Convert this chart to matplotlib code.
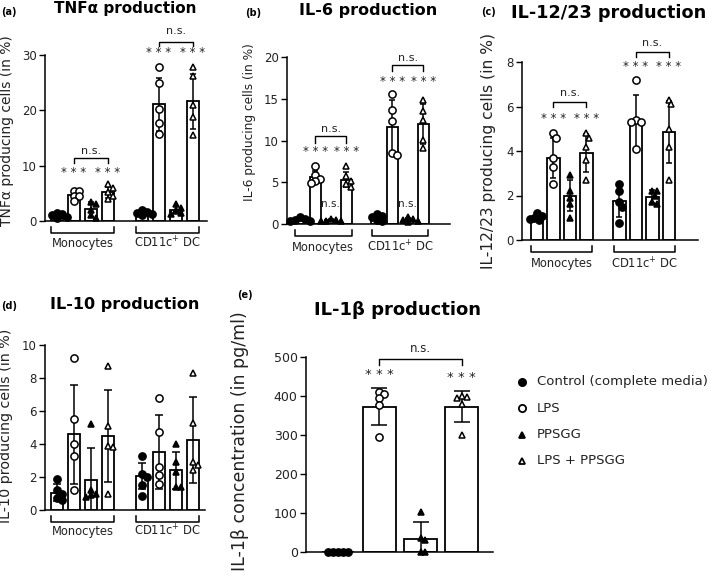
import numpy as np
import matplotlib
matplotlib.use("Agg")
import matplotlib.pyplot as plt
from matplotlib.lines import Line2D
from matplotlib.transforms import blended_transform_factory

# ── Data ─────────────────────────────────────────────────────────────────────
treatments = ["Control (complete media)", "LPS", "PPSGG", "LPS + PPSGG"]
cell_groups = ["Monocytes", "CD11c$^{+}$ DC"]

# order: Mono ctrl, Mono LPS, Mono PPSGG, Mono LPS+PPSGG, DC ctrl, DC LPS, DC PPSGG, DC LPS+PPSGG
tnf_points = [[1.5, 1.2, 1.0, 0.8, 0.6], [5.5, 5.4, 4.6, 4.5, 3.7],
              [3.4, 3.1, 2.0, 1.0, 0.6], [6.7, 6.0, 5.2, 4.5, 4.0],
              [1.9, 1.7, 1.4, 1.2, 1.0], [27.8, 25.0, 20.2, 17.8, 15.8],
              [3.0, 2.4, 1.9, 1.5, 1.2], [27.8, 26.2, 21.0, 18.8, 15.6]]
tnf_mean = [1.0, 4.7, 2.1, 5.2, 1.4, 21.1, 2.0, 21.6]
tnf_sd = [0.35, 0.7, 1.3, 1.0, 0.4, 4.8, 0.7, 4.9]

il6_points = [[0.8, 0.6, 0.5, 0.4, 0.3], [7.0, 5.9, 5.4, 5.1, 4.9],
              [0.6, 0.5, 0.4, 0.35, 0.3], [6.9, 5.7, 5.2, 4.8, 4.4],
              [1.2, 1.0, 0.8, 0.5, 0.3], [15.6, 13.6, 12.3, 8.5, 8.3],
              [0.8, 0.6, 0.5, 0.4, 0.2], [14.8, 13.5, 12.4, 10.1, 9.1]]
il6_mean = [0.5, 5.6, 0.45, 5.3, 0.75, 11.6, 0.5, 12.0]
il6_sd = [0.2, 0.8, 0.1, 0.9, 0.35, 3.2, 0.2, 2.4]

il12_points = [[1.2, 1.1, 1.0, 0.95, 0.9], [4.8, 4.6, 3.7, 3.3, 2.5],
               [2.9, 2.2, 1.9, 1.6, 1.0], [4.8, 4.6, 4.2, 3.6, 2.7],
               [2.5, 2.2, 1.7, 1.5, 0.75], [7.2, 5.4, 5.3, 5.3, 4.1],
               [2.2, 2.2, 2.0, 1.7, 1.6], [6.3, 6.1, 5.0, 4.2, 2.7]]
il12_mean = [1.0, 3.7, 2.0, 3.9, 1.75, 5.3, 1.95, 4.85]
il12_sd = [0.1, 0.9, 0.7, 0.85, 0.7, 1.2, 0.3, 1.4]

il10_points = [[1.85, 1.2, 1.0, 0.7, 0.6], [9.2, 5.5, 4.0, 3.3, 1.2],
               [5.2, 1.2, 1.0, 0.9, 0.8], [8.7, 5.1, 3.9, 3.8, 1.0],
               [3.3, 2.2, 2.0, 1.5, 0.85], [6.8, 4.7, 2.6, 2.1, 1.6],
               [4.0, 2.9, 2.3, 1.4, 1.4], [8.3, 5.3, 2.9, 2.7, 2.4]]
il10_mean = [1.05, 4.6, 1.8, 4.5, 2.05, 3.5, 2.4, 4.25]
il10_sd = [0.5, 3.0, 1.95, 2.8, 0.8, 2.25, 1.1, 2.6]

il1b_points = [[0, 0, 0, 0, 0], [410, 405, 395, 378, 295],
               [103, 35, 30, 0, 0], [400, 398, 396, 380, 300]]
il1b_mean = [0, 373, 33, 373]
il1b_sd = [0, 48, 43, 40]

STAR = "* * *"
NS = "n.s."

# ── Figure setup ─────────────────────────────────────────────────────────────
plt.rcParams["font.family"] = "DejaVu Sans"
W, H = 709, 582
fig = plt.figure(figsize=(W / 100, H / 100), dpi=100)

MARKERS = [("o", "black"), ("o", "white"), ("^", "black"), ("^", "white")]
MSIZE = {"o": 5.2, "^": 5.0}
TXT = "#222222"


def add_axes_px(l, t, r, b):
    return fig.add_axes([l / W, 1 - b / H, (r - l) / W, (b - t) / H])


def ftext(x, y, s, **kw):
    return fig.text(x / W, 1 - y / H, s, **kw)


def swarm(ax, x0, vals, size_px=7.0):
    # spread points sideways only where they pile up
    x_lo, x_hi = ax.get_xlim()
    y_lo, y_hi = ax.get_ylim()
    sx = ax.bbox.width / (x_hi - x_lo)
    sy = ax.bbox.height / (y_hi - y_lo)
    placed, xs = [], np.zeros(len(vals))
    for i in np.argsort(vals)[::-1]:
        ypx = vals[i] * sy
        for k in [0, 1, -1, 2, -2, 3, -3, 4, -4]:
            xpx = k * size_px * 0.35
            if all(np.hypot(xpx - px, ypx - py) >= size_px * 0.7 for px, py in placed):
                break
        placed.append((xpx, ypx))
        xs[i] = x0 + xpx / sx
    return xs


def style_axes(ax, xlim, ylim, yticks, tick_fs):
    ax.set_xlim(*xlim)
    ax.set_ylim(*ylim)
    ax.set_yticks(yticks)
    ax.set_xticks([])
    for side in ["top", "right"]:
        ax.spines[side].set_visible(False)
    for side in ["left", "bottom"]:
        ax.spines[side].set_linewidth(1.1)
    ax.tick_params(axis="y", length=4, width=1.0, labelsize=tick_fs,
                   colors="black", labelcolor=TXT, pad=2)
    ax.patch.set_alpha(0)


def draw_bars(ax, positions, points, means, sds, width, capsize):
    for i, x in enumerate(positions):
        mk, fc = MARKERS[i % 4]
        ax.bar(x, means[i], width=width, color="white", edgecolor="black",
               linewidth=1.3, zorder=2)
        ax.errorbar(x, means[i], yerr=sds[i], color="black", elinewidth=1.1,
                    capsize=capsize, capthick=1.1, zorder=3, fmt="none")
        vals = np.array(points[i], dtype=float)
        xs = swarm(ax, x, vals)
        ax.plot(xs, vals, linestyle="none", marker=mk, markersize=MSIZE[mk],
                markerfacecolor=fc, markeredgecolor="black",
                markeredgewidth=1.1, zorder=4, clip_on=False)


def group_brackets(ax, spans, labels, fs, d_end=6, d_line=12, d_lab=22):
    h = ax.bbox.height
    tr = blended_transform_factory(ax.transData, ax.transAxes)
    for (x0, x1), lab in zip(spans, labels):
        ax.add_line(Line2D([x0, x0, x1, x1],
                           [-d_end / h, -d_line / h, -d_line / h, -d_end / h],
                           transform=tr, color="black", lw=1.1, clip_on=False))
        ax.text((x0 + x1) / 2, -d_lab / h, lab, transform=tr, ha="center",
                va="center", fontsize=fs, color=TXT, clip_on=False)


def sig_bracket(ax, x0, x1, y_tick, y_line, y_text, fs=8):
    ax.plot([x0, x0, x1, x1], [y_tick, y_line, y_line, y_tick], color="black",
            lw=1.0, clip_on=False)
    ax.text((x0 + x1) / 2, y_text, NS, ha="center", va="center", fontsize=fs,
            color=TXT, clip_on=False)


def stars(ax, xs, y, fs=8.5):
    for x in xs:
        ax.text(x, y, STAR, ha="center", va="center", fontsize=fs,
                color=TXT, clip_on=False)


pos8 = [0, 1, 2, 3, 5, 6, 7, 8]
spans8 = [(-0.35, 3.35), (4.65, 8.35)]

# ── (a) TNFα ─────────────────────────────────────────────────────────────────
ax = add_axes_px(45, 55, 207, 221)
style_axes(ax, (-0.7, 8.82), (0, 30), [0, 10, 20, 30], 8.5)
draw_bars(ax, pos8, tnf_points, tnf_mean, tnf_sd, 0.7, 2.5)
group_brackets(ax, spans8, cell_groups, 8.3)
stars(ax, [1, 3], 8.7)
sig_bracket(ax, 1, 3, 10.5, 11.4, 12.6)
stars(ax, [6, 8], 30.4)
sig_bracket(ax, 6, 8, 31.6, 32.4, 34.4)
ftext(7, 131, "TNF\u03b1 producing cells (in %)", rotation=90, ha="center",
      va="center", fontsize=10, color=TXT)
ftext(125, 9, "TNF\u03b1 production", ha="center", va="center",
      fontsize=11, fontweight="bold")
ftext(1, 12, "(a)", ha="left", va="center", fontsize=7, fontweight="bold")

# ── (b) IL-6 ─────────────────────────────────────────────────────────────────
ax = add_axes_px(287, 57, 450, 224)
style_axes(ax, (-0.85, 9.75), (0, 20), [0, 5, 10, 15, 20], 8.5)
draw_bars(ax, pos8, il6_points, il6_mean, il6_sd, 0.71, 2.5)
group_brackets(ax, spans8, cell_groups, 8.3, d_lab=23)
stars(ax, [1, 3], 8.7)
sig_bracket(ax, 1, 3, 9.7, 10.5, 11.4)
stars(ax, [6, 8], 17.1)
sig_bracket(ax, 6, 8, 18.3, 19.0, 19.9)
for x in [2, 7]:
    ax.text(x, 2.4, NS, ha="center", va="center", fontsize=7.5, color=TXT)
ftext(249, 122, "IL-6 producing cells (in %)", rotation=90, ha="center",
      va="center", fontsize=8.7, color=TXT)
ftext(368, 10, "IL-6 production", ha="center", va="center",
      fontsize=11.5, fontweight="bold")
ftext(245, 13, "(b)", ha="left", va="center", fontsize=7, fontweight="bold")

# ── (c) IL-12/23 ─────────────────────────────────────────────────────────────
ax = add_axes_px(522, 62, 698, 240)
style_axes(ax, (-0.9, 9.76), (0, 8), [0, 2, 4, 6, 8], 8.5)
draw_bars(ax, pos8, il12_points, il12_mean, il12_sd, 0.75, 2.5)
group_brackets(ax, spans8, cell_groups, 8.3, d_lab=24)
stars(ax, [1, 3], 5.44)
sig_bracket(ax, 1, 3, 6.0, 6.2, 6.6)
stars(ax, [6, 8], 7.82)
sig_bracket(ax, 6, 8, 8.24, 8.46, 8.84)
ftext(488, 151, "IL-12/23 producing cells (in %)", rotation=90, ha="center",
      va="center", fontsize=11.2, color=TXT)
ftext(609, 13, "IL-12/23 production", ha="center", va="center",
      fontsize=12.7, fontweight="bold")
ftext(481, 12, "(c)", ha="left", va="center", fontsize=7, fontweight="bold")

# ── (d) IL-10 ────────────────────────────────────────────────────────────────
ax = add_axes_px(45, 345, 205, 510)
style_axes(ax, (-0.7, 8.7), (0, 10), [0, 2, 4, 6, 8, 10], 8.5)
draw_bars(ax, pos8, il10_points, il10_mean, il10_sd, 0.7, 2.8)
group_brackets(ax, spans8, cell_groups, 8.3, d_lab=21)
ftext(6, 426, "IL-10 producing cells (in %)", rotation=90, ha="center",
      va="center", fontsize=10.3, color=TXT)
ftext(125, 305, "IL-10 production", ha="center", va="center",
      fontsize=11.5, fontweight="bold")
ftext(1, 306, "(d)", ha="left", va="center", fontsize=7, fontweight="bold")

# ── (e) IL-1β ────────────────────────────────────────────────────────────────
ax = add_axes_px(306, 357, 493, 552)
style_axes(ax, (-0.78, 3.76), (0, 500), [0, 100, 200, 300, 400, 500], 9)
draw_bars(ax, [0, 1, 2, 3], il1b_points, il1b_mean, il1b_sd, 0.79, 5.5)
ax.text(1, 455, STAR, ha="center", va="center", fontsize=9.5, color=TXT)
ax.text(3, 448, STAR, ha="center", va="center", fontsize=9.5, color=TXT)
sig_bracket(ax, 1, 3, 479, 496, 521, fs=8.5)
ftext(240, 441, "IL-1\u03b2 concentration (in pg/ml)", rotation=90,
      ha="center", va="center", fontsize=12.5, color=TXT)
ftext(397, 310, "IL-1\u03b2 production", ha="center", va="center",
      fontsize=13, fontweight="bold")
ftext(237, 295, "(e)", ha="left", va="center", fontsize=7, fontweight="bold")

# ── Legend ───────────────────────────────────────────────────────────────────
leg_y = [382, 408, 435, 461]
for (mk, fc), lab, y in zip(MARKERS, treatments, leg_y):
    fig.add_artist(Line2D([522 / W], [1 - y / H], transform=fig.transFigure,
                          marker=mk, markersize=MSIZE[mk], markerfacecolor=fc,
                          markeredgecolor="black", markeredgewidth=1.3,
                          linestyle="none"))
    ftext(537, y, lab, ha="left", va="center", fontsize=9.5, color=TXT)

fig.savefig("out.png", dpi=100, facecolor="white")
